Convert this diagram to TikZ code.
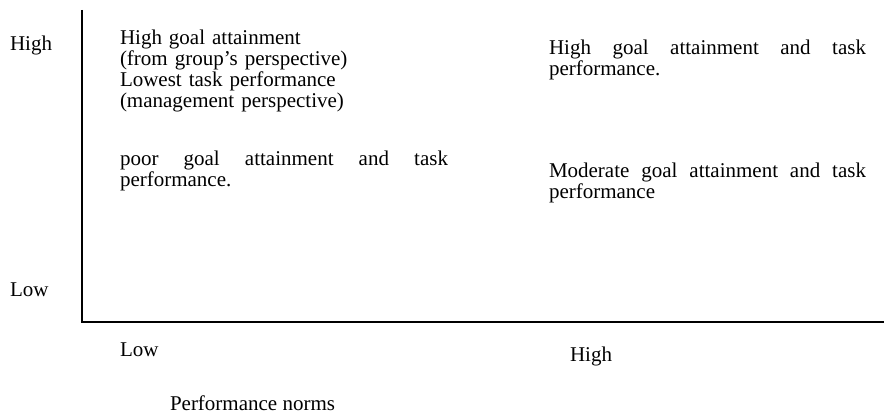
\documentclass[tikz,border=0pt]{standalone}
\usepackage{fontspec}
\setmainfont{Liberation Serif}
\hyphenpenalty=10000
\exhyphenpenalty=10000
\begin{document}
\begin{tikzpicture}[x=1pt,y=-1pt,
  lbl/.style={inner sep=0pt,outer sep=0pt,anchor=base west,font=\fontsize{21}{20.7}\selectfont},
  para/.style={lbl,align=justify,text width=#1},
  axis/.style={line width=1.6pt}]
\useasboundingbox (0,0) rectangle (884,414);
\coordinate (top) at (82,10);
\coordinate (origin) at (82,322);
\coordinate (right) at (884,322);
\draw[axis] (top) -- (origin) -- (right);
\node[lbl] (yhigh) at (10,51) {High};
\node[lbl] (ylow) at (10,297) {Low};
\node[lbl] (xlow) at (120,356) {Low};
\node[lbl] (xhigh) at (570,361) {High};
\node[lbl] (xtitle) at (170,410) {Performance norms};
\node[lbl,align=left,text width=330pt] (q1) at (120,45) {High goal attainment\\(from group’s perspective)\\Lowest task performance\\(management perspective)};
\node[para=328pt] (q2) at (120,166) {poor goal attainment and task performance.};
\node[para=317pt] (q3) at (549,55) {High goal attainment and task performance.};
\node[para=317pt] (q4) at (549,178) {Moderate goal attainment and task performance};
\end{tikzpicture}
\end{document}
